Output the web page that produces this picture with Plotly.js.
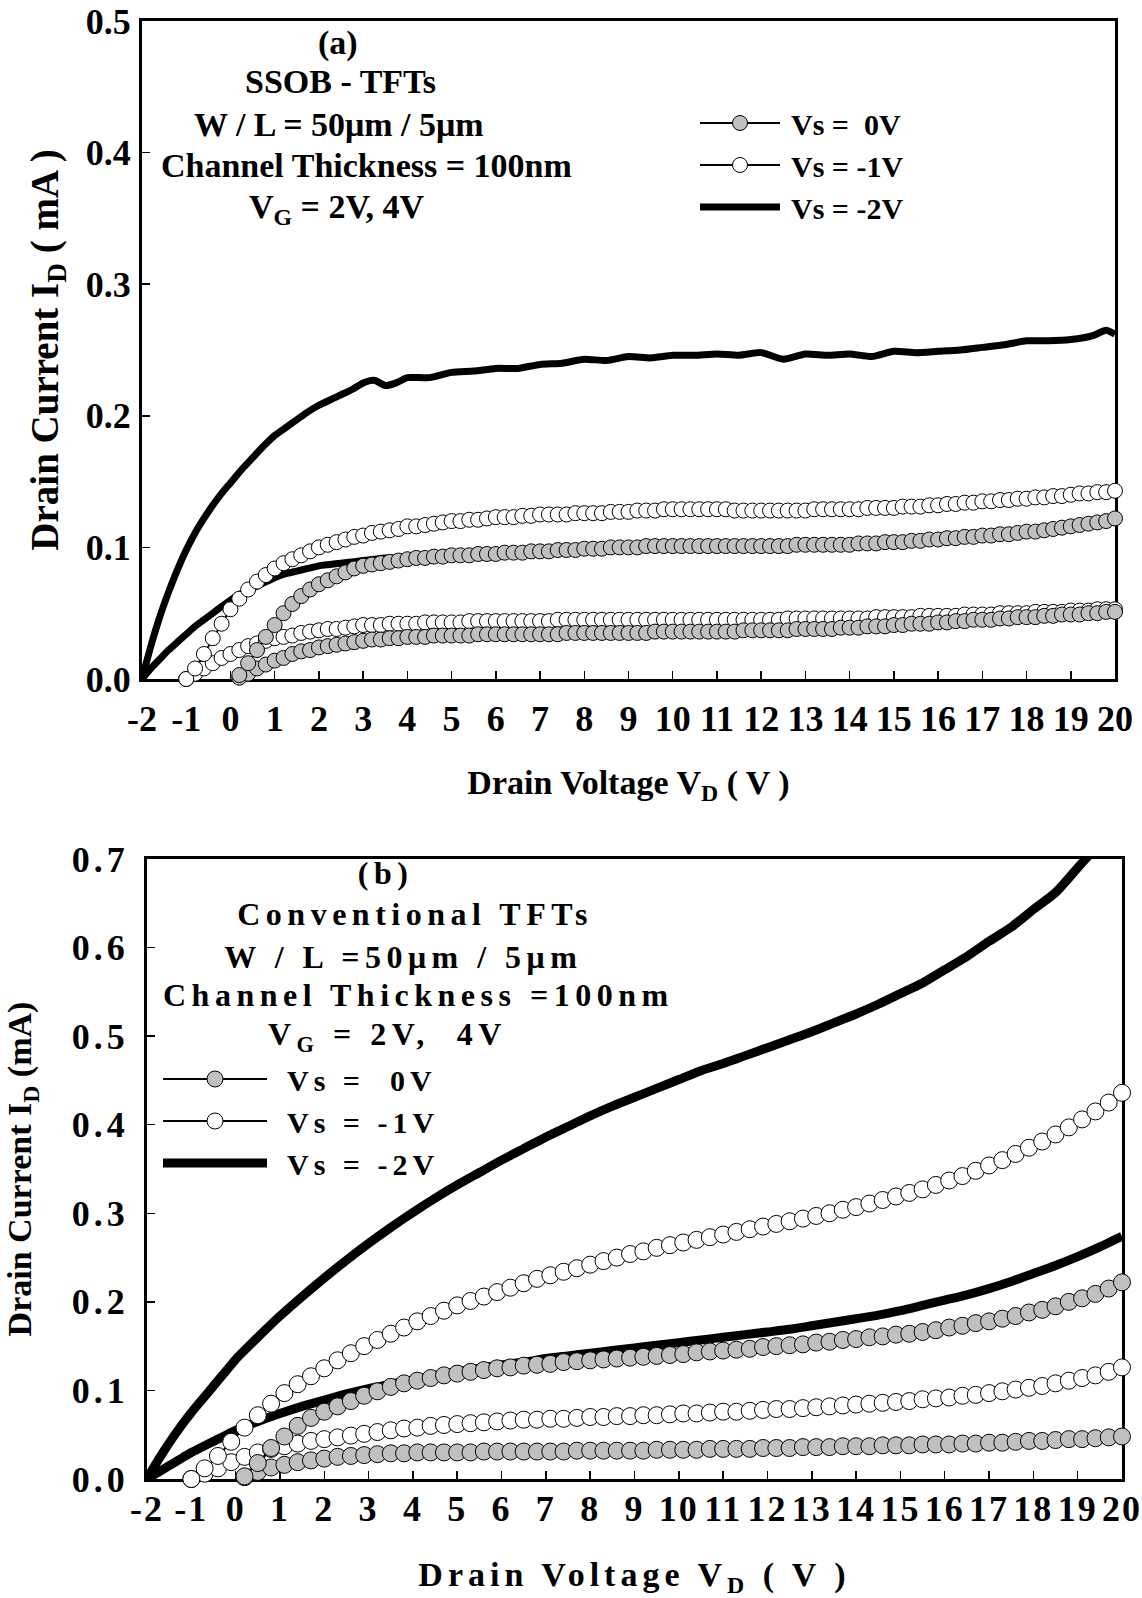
<!DOCTYPE html>
<html><head><meta charset="utf-8">
<script src="https://cdn.plot.ly/plotly-3.0.1.min.js"></script>
<style>
html,body{margin:0;padding:0;background:#fff;}
#chart{width:1142px;height:1598px;}
.g-x2title text{letter-spacing:5px;}
.y2tick text{letter-spacing:4px;}
.x2tick text{letter-spacing:2px;}
.annotation[data-index="5"] text,.annotation[data-index="6"] text,.annotation[data-index="7"] text,.annotation[data-index="8"] text,.annotation[data-index="9"] text{letter-spacing:5.5px;}
</style>
</head><body>
<div id="chart"></div>
<script>
// ---------- Panel (a): SSOB-TFTs ----------
const VD_A0 = [0.2,0.4,0.6,0.8,1,1.2,1.4,1.6,1.8,2,
2.2,2.4,2.6,2.8,3,3.2,3.4,3.6,3.8,4,
4.2,4.4,4.6,4.8,5,5.2,5.4,5.6,5.8,6,
6.2,6.4,6.6,6.8,7,7.2,7.4,7.6,7.8,8,
8.2,8.4,8.6,8.8,9,9.2,9.4,9.6,9.8,10,
10.2,10.4,10.6,10.8,11,11.2,11.4,11.6,11.8,12,
12.2,12.4,12.6,12.8,13,13.2,13.4,13.6,13.8,14,
14.2,14.4,14.6,14.8,15,15.2,15.4,15.6,15.8,16,
16.2,16.4,16.6,16.8,17,17.2,17.4,17.6,17.8,18,
18.2,18.4,18.6,18.8,19,19.2,19.4,19.6,19.8,20];
const VD_A1 = [-1,-0.8,-0.6,-0.4,-0.2,0,0.2,0.4,0.6,0.8,1,1.2,1.4,1.6,1.8,2,
2.2,2.4,2.6,2.8,3,3.2,3.4,3.6,3.8,4,
4.2,4.4,4.6,4.8,5,5.2,5.4,5.6,5.8,6,
6.2,6.4,6.6,6.8,7,7.2,7.4,7.6,7.8,8,
8.2,8.4,8.6,8.8,9,9.2,9.4,9.6,9.8,10,
10.2,10.4,10.6,10.8,11,11.2,11.4,11.6,11.8,12,
12.2,12.4,12.6,12.8,13,13.2,13.4,13.6,13.8,14,
14.2,14.4,14.6,14.8,15,15.2,15.4,15.6,15.8,16,
16.2,16.4,16.6,16.8,17,17.2,17.4,17.6,17.8,18,
18.2,18.4,18.6,18.8,19,19.2,19.4,19.6,19.8,20];
const VD_A2 = [-2,-1.8,-1.6,-1.4,-1.2,-1,-0.8,-0.6,-0.4,-0.2,0,
0.25,0.5,0.75,1,1.25,1.5,1.75,2,2.25,2.5,2.75,3,3.25,3.5,3.75,4,
4.5,5,5.5,6,6.5,7,7.5,8,8.5,9,9.5,10,10.5,11,11.5,12,12.5,13,13.5,14,14.5,15,15.5,16,16.5,17,17.5,18,18.5,19,19.5,
19.8,20];

// Vs = 0V (gray), VG = 2V and 4V
const ID_A_VS0_VG2 = [0.001,0.004,0.008,0.011,0.014,0.016,0.019,0.021,0.022,0.024,
0.025,0.026,0.027,0.028,0.029,0.030,0.030,0.031,0.031,0.032,
0.032,0.032,0.033,0.033,0.033,0.033,0.033,0.034,0.034,0.034,
0.034,0.034,0.034,0.034,0.034,0.034,0.034,0.035,0.035,0.035,
0.035,0.035,0.035,0.035,0.035,0.035,0.035,0.036,0.036,0.036,
0.036,0.036,0.036,0.036,0.036,0.036,0.036,0.037,0.037,0.037,
0.037,0.037,0.037,0.038,0.038,0.038,0.038,0.038,0.039,0.039,
0.039,0.040,0.040,0.040,0.041,0.041,0.042,0.042,0.042,0.043,
0.043,0.044,0.044,0.045,0.045,0.045,0.046,0.046,0.047,0.047,
0.047,0.048,0.048,0.049,0.049,0.049,0.050,0.050,0.051,0.051];
const ID_A_VS0_VG4 = [0.003,0.012,0.022,0.032,0.041,0.050,0.057,0.063,0.068,0.072,
0.075,0.078,0.081,0.084,0.086,0.087,0.088,0.089,0.090,0.091,
0.092,0.092,0.093,0.093,0.094,0.094,0.094,0.095,0.095,0.095,
0.096,0.096,0.096,0.097,0.097,0.097,0.098,0.098,0.098,0.099,
0.099,0.099,0.100,0.100,0.100,0.100,0.101,0.101,0.101,0.101,
0.101,0.101,0.101,0.101,0.101,0.101,0.101,0.101,0.101,0.101,
0.101,0.101,0.101,0.102,0.102,0.102,0.102,0.102,0.102,0.102,
0.103,0.103,0.103,0.104,0.104,0.104,0.105,0.105,0.106,0.106,
0.107,0.107,0.108,0.108,0.109,0.109,0.110,0.110,0.111,0.112,
0.112,0.113,0.114,0.115,0.116,0.117,0.118,0.119,0.120,0.122];
// Vs = -1V (white)
const ID_A_VS1_VG4 = [0.000,0.008,0.019,0.031,0.042,0.053,
0.061,0.068,0.074,0.079,0.084,0.088,0.091,0.094,0.097,0.100,
0.102,0.104,0.106,0.108,0.109,0.111,0.112,0.113,0.114,0.116,
0.116,0.117,0.118,0.119,0.120,0.120,0.121,0.121,0.122,0.123,
0.123,0.123,0.124,0.124,0.125,0.125,0.125,0.125,0.126,0.126,
0.126,0.126,0.127,0.127,0.127,0.128,0.128,0.128,0.129,0.129,
0.129,0.129,0.129,0.129,0.129,0.129,0.128,0.128,0.128,0.128,
0.128,0.128,0.128,0.128,0.128,0.129,0.129,0.129,0.129,0.129,
0.129,0.130,0.130,0.130,0.130,0.131,0.131,0.131,0.132,0.132,
0.133,0.133,0.134,0.134,0.135,0.135,0.136,0.136,0.137,0.137,
0.138,0.138,0.139,0.139,0.140,0.141,0.141,0.142,0.142,0.143];
const ID_A_VS1_VG2 = [0.000,0.004,0.008,0.012,0.016,0.019,
0.022,0.025,0.027,0.029,0.031,0.032,0.033,0.035,0.036,0.037,
0.038,0.038,0.039,0.040,0.041,0.041,0.041,0.042,0.042,0.042,
0.042,0.043,0.043,0.043,0.043,0.043,0.044,0.044,0.044,0.044,
0.044,0.044,0.044,0.044,0.044,0.044,0.045,0.045,0.045,0.045,
0.045,0.045,0.045,0.045,0.045,0.045,0.045,0.045,0.045,0.045,
0.045,0.045,0.045,0.045,0.045,0.045,0.045,0.045,0.045,0.045,
0.045,0.045,0.046,0.046,0.046,0.046,0.046,0.046,0.046,0.046,
0.046,0.046,0.047,0.047,0.047,0.047,0.047,0.048,0.048,0.048,
0.048,0.048,0.049,0.049,0.049,0.049,0.050,0.050,0.050,0.050,
0.051,0.051,0.051,0.051,0.052,0.052,0.052,0.053,0.053,0.053];
// Vs = -2V (thick line)
const ID_A_VS2_VG4 = [0,0.025,0.047,0.066,0.083,0.098,0.111,0.122,0.132,0.141,0.149,
0.159,0.168,0.177,0.185,0.191,0.197,0.203,0.208,0.212,0.216,0.220,0.225,0.227,0.223,0.225,0.229,
0.229,0.233,0.234,0.236,0.236,0.239,0.240,0.243,0.242,0.245,0.244,0.246,0.246,0.247,0.246,0.248,0.243,0.247,0.246,0.247,0.245,0.249,0.248,0.249,0.250,0.252,0.254,0.257,0.257,0.258,0.261,
0.265,0.262];
const ID_A_VS2_VG2 = [0,0.008,0.015,0.022,0.028,0.034,0.040,0.045,0.050,0.055,0.060,
0.065,0.069,0.073,0.077,0.080,0.082,0.084,0.086,0.087,0.088,0.089,0.090,0.091,0.092,0.092,0.093,
0.094,0.095,0.095,0.096,0.097,0.097,0.098,0.098,0.099,0.099,0.100,0.100,0.100,0.100,0.100,0.100,0.101,0.101,0.102,0.103,0.104,0.105,0.106,0.107,0.108,0.110,0.111,0.113,0.115,0.117,0.119,
0.120,0.121];

// ---------- Panel (b): Conventional TFTs ----------
const VD_B0 = [0.2,0.5,0.8,1.1,1.4,1.7,2,2.3,2.6,2.9,
3.2,3.5,3.8,4.1,4.4,4.7,5,5.3,5.6,5.9,
6.2,6.5,6.8,7.1,7.4,7.7,8,8.3,8.6,8.9,
9.2,9.5,9.8,10.1,10.4,10.7,11,11.3,11.6,11.9,
12.2,12.5,12.8,13.1,13.4,13.7,14,14.3,14.6,14.9,
15.2,15.5,15.8,16.1,16.4,16.7,17,17.3,17.6,17.9,
18.2,18.5,18.8,19.1,19.4,19.7,20];
const VD_B1 = [-1,-0.7,-0.4,-0.1,
0.2,0.5,0.8,1.1,1.4,1.7,2,2.3,2.6,2.9,
3.2,3.5,3.8,4.1,4.4,4.7,5,5.3,5.6,5.9,
6.2,6.5,6.8,7.1,7.4,7.7,8,8.3,8.6,8.9,
9.2,9.5,9.8,10.1,10.4,10.7,11,11.3,11.6,11.9,
12.2,12.5,12.8,13.1,13.4,13.7,14,14.3,14.6,14.9,
15.2,15.5,15.8,16.1,16.4,16.7,17,17.3,17.6,17.9,
18.2,18.5,18.8,19.1,19.4,19.7,20];
const VD_B2 = [-2,-1.8,-1.6,-1.4,-1.2,-1,-0.8,-0.6,-0.4,-0.2,0,
0.5,1,1.5,2,2.5,3,3.5,4,4.5,5,
5.5,6,6.5,7,7.5,8,8.5,9,9.5,10,
10.5,11,11.5,12,12.5,13,13.5,14,14.5,15,
15.5,16,16.5,17,17.5,18,18.5,19,19.5,20];

const ID_B_VS0_VG2 = [0.002,0.008,0.013,0.016,0.019,0.021,0.023,0.025,0.026,0.027,
0.028,0.029,0.029,0.030,0.030,0.030,0.030,0.030,0.031,0.031,
0.031,0.031,0.031,0.031,0.031,0.032,0.032,0.032,0.032,0.032,
0.032,0.033,0.033,0.033,0.033,0.034,0.034,0.034,0.034,0.035,
0.035,0.035,0.036,0.036,0.036,0.037,0.037,0.037,0.038,0.038,
0.038,0.039,0.039,0.039,0.040,0.040,0.041,0.041,0.042,0.043,
0.043,0.044,0.045,0.045,0.046,0.047,0.048];
const ID_B_VS0_VG4 = [0.003,0.018,0.035,0.048,0.060,0.069,0.076,0.082,0.088,0.094,
0.099,0.104,0.108,0.111,0.114,0.117,0.119,0.121,0.123,0.125,
0.126,0.128,0.129,0.130,0.132,0.133,0.134,0.135,0.136,0.137,
0.138,0.139,0.140,0.141,0.143,0.144,0.145,0.146,0.147,0.149,
0.150,0.151,0.152,0.154,0.155,0.157,0.158,0.160,0.161,0.163,
0.164,0.166,0.168,0.171,0.173,0.176,0.178,0.181,0.184,0.188,
0.191,0.195,0.200,0.204,0.209,0.215,0.222];
const ID_B_VS1_VG4 = [0.000,0.012,0.026,0.042,
0.058,0.072,0.085,0.097,0.107,0.116,0.125,0.134,0.142,0.150,
0.157,0.164,0.171,0.178,0.184,0.190,0.196,0.201,0.206,0.211,
0.216,0.221,0.226,0.230,0.234,0.238,0.242,0.246,0.250,0.254,
0.257,0.261,0.264,0.267,0.270,0.273,0.276,0.279,0.282,0.285,
0.288,0.291,0.294,0.297,0.300,0.304,0.307,0.311,0.315,0.319,
0.323,0.327,0.332,0.337,0.342,0.348,0.354,0.360,0.367,0.374,
0.381,0.389,0.397,0.406,0.415,0.425,0.436];
const ID_B_VS1_VG2 = [0.000,0.006,0.012,0.019,
0.025,0.030,0.034,0.037,0.040,0.043,0.045,0.047,0.049,0.051,
0.053,0.055,0.057,0.058,0.060,0.061,0.062,0.063,0.064,0.065,
0.066,0.067,0.067,0.068,0.068,0.069,0.070,0.070,0.071,0.071,
0.072,0.072,0.073,0.074,0.074,0.075,0.076,0.076,0.077,0.078,
0.079,0.079,0.080,0.081,0.082,0.083,0.084,0.085,0.086,0.087,
0.088,0.090,0.091,0.092,0.094,0.095,0.097,0.099,0.101,0.103,
0.105,0.108,0.111,0.114,0.117,0.121,0.126];
const ID_B_VS2_VG4 = [0,0.017,0.033,0.048,0.062,0.075,0.087,0.099,0.111,0.123,0.135,
0.160,0.184,0.206,0.227,0.247,0.266,0.284,0.301,0.317,0.332,
0.346,0.360,0.373,0.386,0.398,0.410,0.421,0.431,0.441,0.451,
0.461,0.469,0.478,0.487,0.496,0.505,0.515,0.525,0.536,0.548,
0.560,0.575,0.590,0.607,0.623,0.643,0.662,0.690,0.718,0.745];
const ID_B_VS2_VG2 = [0,0.006,0.012,0.018,0.024,0.030,0.035,0.040,0.045,0.050,0.055,
0.065,0.074,0.082,0.089,0.096,0.102,0.107,0.112,0.117,0.121,
0.125,0.129,0.132,0.136,0.139,0.142,0.145,0.148,0.151,0.154,
0.157,0.160,0.163,0.166,0.169,0.173,0.177,0.181,0.185,0.190,
0.196,0.202,0.208,0.215,0.223,0.232,0.241,0.251,0.262,0.274];

// tick labels and texts
const X_TICKS = [-2,-1,0,1,2,3,4,5,6,7,8,9,10,11,12,13,14,15,16,17,18,19,20];
const X_TICK_TEXT = ['-2','-1','0','1','2','3','4','5','6','7','8','9','10','11','12','13','14','15','16','17','18','19','20'];
const YA_TICKS = [0,0.1,0.2,0.3,0.4,0.5];
const YA_TICK_TEXT = ['0.0','0.1','0.2','0.3','0.4','0.5'];
const YB_TICKS = [0,0.1,0.2,0.3,0.4,0.5,0.6,0.7];
const YB_TICK_TEXT = ['0.0','0.1','0.2','0.3','0.4','0.5','0.6','0.7'];
const LEG_A = ['Vs =  0V', 'Vs = -1V', 'Vs = -2V'];
const LEG_B = ['Vs =  0V', 'Vs = -1V', 'Vs = -2V'];
const TEXT_A = ['(a)', 'SSOB - TFTs', 'W / L = 50\u03bcm / 5\u03bcm', 'Channel Thickness = 100nm', 'V<sub>G</sub> = 2V, 4V'];
const TEXT_B = ['(b)', 'Conventional TFTs', 'W / L =50\u03bcm / 5\u03bcm', 'Channel Thickness =100nm', 'V<sub>G</sub> = 2V,  4V'];

// ---------- styling ----------
const FONT = 'Liberation Serif, Times New Roman, serif';
const GRAY = '#c0c0c0';
const W = 1142, H = 1598;
const px = x => x / W;
const py = y => 1 - y / H;
// legend labels: small leading gap after the symbol; panel (b) legend letter-spaced
const legA = LEG_A.map(s => '\u2009' + s);
const legB = LEG_B.map(s => '<span style="letter-spacing:5px">\u2004' + s + '</span>');

function markerTrace(x, y, fill, name, xa, ya, leg, show, rank, size) {
  return {x: x, y: y, type: 'scatter', mode: 'lines+markers', name: name,
    xaxis: xa, yaxis: ya, legend: leg, showlegend: show, legendrank: rank,
    line: {color: '#000', width: 2},
    marker: {symbol: 'circle', size: size, color: fill, line: {color: '#000', width: 1}},
    cliponaxis: false};
}
function lineTrace(x, y, name, xa, ya, leg, show, rank, w) {
  return {x: x, y: y, type: 'scatter', mode: 'lines', name: name,
    xaxis: xa, yaxis: ya, legend: leg, showlegend: show, legendrank: rank,
    line: {color: '#000', width: w, shape: 'spline', smoothing: 0.6}};
}

const traces = [
  lineTrace(VD_A2, ID_A_VS2_VG2, legA[2], 'x', 'y', 'legend', false, 3, 7),
  lineTrace(VD_A2, ID_A_VS2_VG4, legA[2], 'x', 'y', 'legend', true, 3, 7),
  markerTrace(VD_A1, ID_A_VS1_VG2, '#fff', legA[1], 'x', 'y', 'legend', false, 2, 15),
  markerTrace(VD_A1, ID_A_VS1_VG4, '#fff', legA[1], 'x', 'y', 'legend', true, 2, 15),
  markerTrace(VD_A0, ID_A_VS0_VG2, GRAY, legA[0], 'x', 'y', 'legend', false, 1, 15),
  markerTrace(VD_A0, ID_A_VS0_VG4, GRAY, legA[0], 'x', 'y', 'legend', true, 1, 15),

  lineTrace(VD_B2, ID_B_VS2_VG2, legB[2], 'x2', 'y2', 'legend2', false, 3, 9),
  lineTrace(VD_B2, ID_B_VS2_VG4, legB[2], 'x2', 'y2', 'legend2', true, 3, 9),
  markerTrace(VD_B1, ID_B_VS1_VG2, '#fff', legB[1], 'x2', 'y2', 'legend2', false, 2, 17),
  markerTrace(VD_B1, ID_B_VS1_VG4, '#fff', legB[1], 'x2', 'y2', 'legend2', true, 2, 17),
  markerTrace(VD_B0, ID_B_VS0_VG2, GRAY, legB[0], 'x2', 'y2', 'legend2', false, 1, 17),
  markerTrace(VD_B0, ID_B_VS0_VG4, GRAY, legB[0], 'x2', 'y2', 'legend2', true, 1, 17)
];

const tickFont = {family: FONT, size: 36, color: '#000', weight: 'bold'};
const xTitleFont = {family: FONT, size: 34, color: '#000', weight: 'bold'};
function axis(extra) {
  return Object.assign({
    showline: true, mirror: true, linecolor: '#000', linewidth: 3,
    ticks: 'inside', ticklen: 8, tickwidth: 1.5, tickcolor: '#000',
    showgrid: false, zeroline: false, tickfont: tickFont, automargin: false,
    layer: 'below traces', fixedrange: true, tickmode: 'array'
  }, extra);
}

const annPos = [
  [338, 43], [340, 82], [339, 124], [366, 166], [337, 209],
  [385, 873], [415, 914], [403, 957], [418, 995], [387, 1036]
];
const annTexts = TEXT_A.concat(TEXT_B);
const annotations = annTexts.map((t, i) => ({
  text: t, xref: 'paper', yref: 'paper', x: px(annPos[i][0]), y: py(annPos[i][1]),
  xanchor: 'center', yanchor: 'middle', showarrow: false,
  font: {family: FONT, size: i < 5 ? 34 : 32, color: '#000', weight: 'bold'}
}));

const layout = {
  width: W, height: H,
  margin: {l: 0, r: 0, t: 0, b: 0},
  paper_bgcolor: '#fff', plot_bgcolor: '#fff',
  font: {family: FONT, color: '#000'},
  xaxis: axis({domain: [px(142), px(1115)], anchor: 'y', range: [-2, 20],
    tickvals: X_TICKS, ticktext: X_TICK_TEXT, ticklabelstandoff: 6,
    title: {text: 'Drain Voltage V<sub>D</sub> ( V )', font: xTitleFont, standoff: 32}}),
  yaxis: axis({domain: [py(679), py(21)], anchor: 'x', range: [0, 0.5],
    tickvals: YA_TICKS, ticktext: YA_TICK_TEXT, ticklabelstandoff: 1,
    title: {text: 'Drain Current I<sub>D</sub> ( mA )', standoff: 16,
      font: {family: FONT, size: 39, color: '#000', weight: 'bold'}}}),
  xaxis2: axis({domain: [px(147), px(1122)], anchor: 'y2', range: [-2, 20],
    tickvals: X_TICKS, ticktext: X_TICK_TEXT, ticklabelstandoff: -4,
    title: {text: 'Drain Voltage V<sub>D</sub> ( V )', font: xTitleFont, standoff: 44}}),
  yaxis2: axis({domain: [py(1479), py(859)], anchor: 'x2', range: [0, 0.7],
    tickvals: YB_TICKS, ticktext: YB_TICK_TEXT, ticklabelstandoff: 8,
    title: {text: 'Drain Current I<sub>D</sub> (mA)', standoff: 30,
      font: {family: FONT, size: 34, color: '#000', weight: 'bold'}}}),
  legend: {x: px(695), y: py(97), xanchor: 'left', yanchor: 'top',
    bgcolor: 'rgba(0,0,0,0)', borderwidth: 0, itemwidth: 80, tracegroupgap: 0,
    font: {family: FONT, size: 30, color: '#000', weight: 'bold'}},
  legend2: {x: px(158), y: py(1053), xanchor: 'left', yanchor: 'top',
    bgcolor: 'rgba(0,0,0,0)', borderwidth: 0, itemwidth: 104, tracegroupgap: 0,
    font: {family: FONT, size: 30, color: '#000', weight: 'bold'}},
  annotations: annotations,
  showlegend: true
};

Plotly.newPlot('chart', traces, layout, {displayModeBar: false, staticPlot: true});
</script>
</body></html>
